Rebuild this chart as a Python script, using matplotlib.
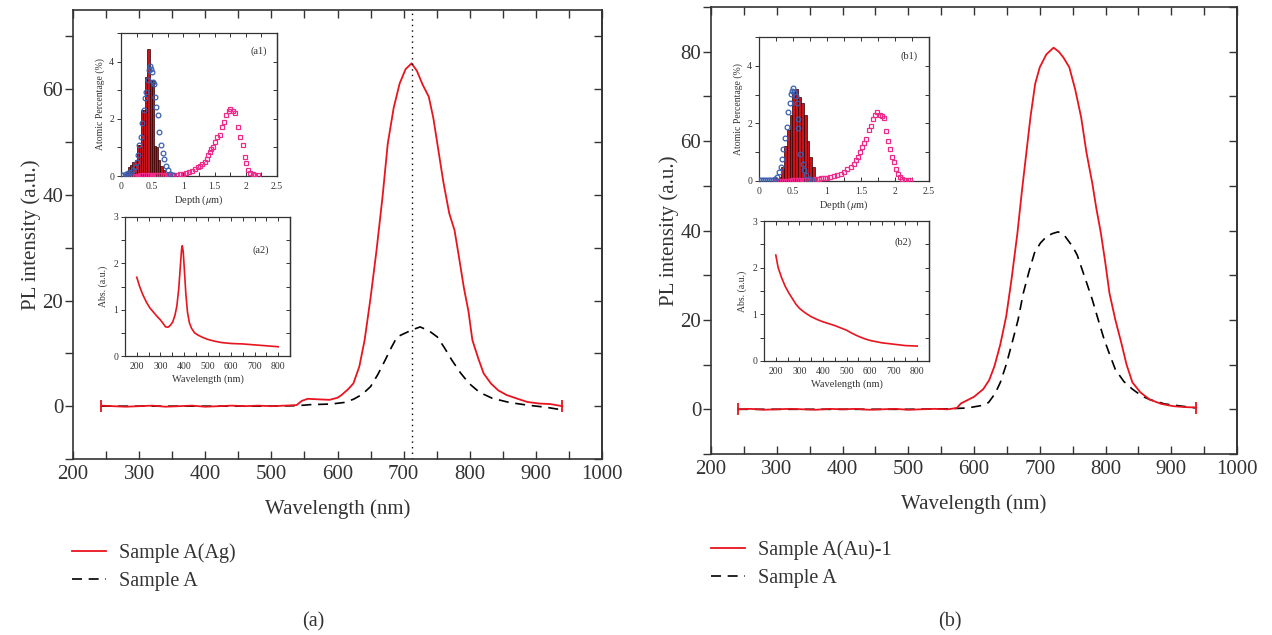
import matplotlib
matplotlib.use('Agg')
import matplotlib.pyplot as plt
from matplotlib.lines import Line2D
from matplotlib.ticker import MultipleLocator, FormatStrFormatter

plt.rcParams['font.family'] = ['Liberation Serif', 'DejaVu Serif']
plt.rcParams['mathtext.fontset'] = 'stix'
for k in ['text.color', 'axes.labelcolor', 'xtick.color', 'ytick.color', 'axes.edgecolor']:
    plt.rcParams[k] = '#333333'

RED = '#e8141e'

# ---- main PL spectra, panel (a)
a_red_wl = [243, 260, 280, 300, 320, 340, 360, 380, 400, 420, 440, 460, 480, 500, 520, 538,
            546, 555, 570, 588, 600, 606, 616, 624, 633, 641, 650, 659, 668, 676, 685, 694,
            703, 712, 720, 729, 738, 745, 751, 760, 769, 777, 784, 791, 798, 804, 813, 821,
            832, 843, 856, 870, 887, 905, 922, 940]
a_red_int = [0.1, 0.0, -0.1, 0.0, 0.1, -0.1, 0.0, 0.1, -0.1, 0.0, 0.1, 0.0, 0.1, 0.0, 0.1, 0.2,
             1.0, 1.4, 1.3, 1.2, 1.6, 2.1, 3.2, 4.3, 7.5, 12.5, 20.5, 29.5, 39.5, 49.7, 56.5, 61.1,
             63.8, 64.9, 63.5, 60.8, 58.6, 54.5, 49.7, 42.5, 36.5, 33.3, 28.0, 22.5, 18.0, 12.5, 9.0, 6.2,
             4.3, 3.0, 2.1, 1.5, 0.8, 0.5, 0.4, 0.0]
a_blk_wl = [243, 300, 400, 500, 540, 560, 590, 610, 624, 637, 650, 661, 672, 681, 690, 700,
            707, 716, 725, 738, 751, 762, 773, 786, 799, 815, 834, 860, 887, 915, 940]
a_blk_int = [0.0, 0.0, 0.0, 0.0, 0.1, 0.3, 0.4, 0.7, 1.3, 2.2, 3.7, 6.0, 8.7, 11.0, 13.1, 13.7,
             14.1, 14.6, 15.0, 14.3, 13.1, 11.0, 8.7, 6.3, 4.3, 2.6, 1.5, 0.7, 0.2, -0.2, -0.7]
a_mark_wl = 713

# ---- main PL spectra, panel (b)
b_red_wl = [241, 260, 280, 300, 320, 340, 360, 380, 400, 420, 440, 460, 480, 500, 520, 540,
            560, 574, 580, 588, 600, 614, 623, 631, 640, 649, 657, 666, 673, 680, 686, 693,
            700, 710, 721, 729, 736, 745, 754, 763, 771, 780, 786, 793, 800, 806, 815, 824,
            832, 841, 853, 867, 885, 903, 920, 938]
b_red_int = [0.0, 0.1, -0.1, 0.0, 0.1, 0.0, -0.1, 0.1, 0.0, 0.1, -0.1, 0.0, 0.1, -0.1, 0.0, 0.1,
             0.0, 0.3, 1.3, 1.9, 2.8, 4.5, 6.5, 9.6, 14.5, 20.8, 29.0, 39.4, 49.0, 57.9, 65.5, 72.8,
             76.5, 79.4, 80.9, 80.0, 78.7, 76.5, 71.5, 65.3, 57.5, 50.5, 45.0, 39.4, 32.5, 26.0, 20.0, 14.9,
             10.0, 6.0, 3.8, 2.2, 1.2, 0.7, 0.5, 0.4]
b_blk_wl = [241, 300, 400, 500, 560, 590, 610, 622, 632, 640, 649, 658, 667, 675, 684, 692,
            701, 710, 719, 728, 738, 750, 757, 763, 772, 780, 789, 798, 807, 815, 828, 841,
            855, 867, 890, 911, 938]
b_blk_int = [0.0, 0.0, 0.0, 0.0, 0.1, 0.3, 0.8, 1.5, 3.5, 6.0, 10.0, 14.9, 20.0, 26.0, 31.0, 35.0,
             37.2, 38.6, 39.3, 39.7, 38.8, 36.4, 34.5, 31.9, 28.0, 24.5, 20.0, 15.6, 12.0, 8.9, 6.2, 4.5,
             3.0, 2.2, 1.2, 0.8, 0.3]

# ---- depth profiles (a1)
a1_bar_x = [0.06, 0.095, 0.13, 0.165, 0.20, 0.235, 0.27, 0.305, 0.34, 0.375, 0.405, 0.44,
            0.475, 0.51, 0.545, 0.58, 0.615, 0.65, 0.685, 0.72, 0.755]
a1_bar_h = [0.05, 0.1, 0.32, 0.38, 0.5, 0.55, 1.1, 1.1, 2.3, 2.3, 3.45, 4.45,
            3.35, 3.35, 1.05, 1.0, 0.55, 0.35, 0.2, 0.1, 0.04]
a1_blue_x = [0.0, 0.04, 0.08, 0.12, 0.16, 0.19, 0.22, 0.25, 0.275, 0.29, 0.315, 0.34, 0.365,
             0.38, 0.405, 0.425, 0.445, 0.465, 0.48, 0.49, 0.505, 0.525, 0.545, 0.565, 0.585,
             0.61, 0.64, 0.67, 0.69, 0.72, 0.75, 0.79, 0.84]
a1_blue_y = [0.03, 0.03, 0.06, 0.09, 0.15, 0.2, 0.32, 0.49, 0.75, 1.1, 1.35, 1.85, 2.3,
             2.72, 2.95, 3.35, 3.7, 3.85, 3.75, 3.65, 3.3, 3.2, 2.75, 2.4, 2.15,
             1.55, 1.1, 0.8, 0.6, 0.35, 0.2, 0.07, 0.03]
a1_pink_x = [0.10, 0.13, 0.16, 0.19, 0.22, 0.25, 0.28, 0.31, 0.34, 0.37, 0.40, 0.43, 0.46,
             0.49, 0.52, 0.55, 0.58, 0.61, 0.64, 0.67, 0.70, 0.73, 0.76, 0.79, 0.82, 0.85,
             0.89, 0.94, 0.99, 1.04, 1.09, 1.14, 1.19, 1.23, 1.265, 1.30, 1.34, 1.375, 1.40,
             1.43, 1.45, 1.475, 1.50, 1.54, 1.58, 1.615, 1.65, 1.69, 1.725, 1.75, 1.79, 1.83,
             1.875, 1.915, 1.95, 1.98, 2.005, 2.04, 2.075, 2.115, 2.15, 2.19]
a1_pink_y = [0.01, 0.01, 0.01, 0.01, 0.01, 0.01, 0.01, 0.02, 0.02, 0.02, 0.02, 0.02, 0.02,
             0.02, 0.02, 0.02, 0.02, 0.02, 0.02, 0.03, 0.03, 0.03, 0.03, 0.03, 0.03, 0.04,
             0.04, 0.06, 0.08, 0.11, 0.15, 0.18, 0.23, 0.3, 0.36, 0.41, 0.49, 0.61, 0.72,
             0.84, 0.95, 1.03, 1.18, 1.35, 1.43, 1.72, 1.89, 2.13, 2.27, 2.35, 2.27, 2.21,
             1.7, 1.35, 1.07, 0.66, 0.46, 0.21, 0.11, 0.06, 0.03, 0.02]

# ---- depth profiles (b1)
b1_bar_x = [0.31, 0.35, 0.39, 0.43, 0.47, 0.51, 0.555, 0.60, 0.64, 0.68, 0.72, 0.76, 0.80, 0.84]
b1_bar_h = [0.15, 0.5, 1.2, 1.77, 2.3, 3.1, 3.2, 2.93, 2.7, 2.3, 1.4, 0.85, 0.5, 0.15]
b1_blue_x = [0.0, 0.03, 0.06, 0.09, 0.12, 0.15, 0.18, 0.21, 0.24, 0.27, 0.30, 0.32, 0.34,
             0.36, 0.38, 0.41, 0.43, 0.45, 0.47, 0.485, 0.50, 0.52, 0.54, 0.56, 0.57, 0.58,
             0.61, 0.64, 0.66, 0.69, 0.73, 0.78]
b1_blue_y = [0.02, 0.02, 0.02, 0.02, 0.02, 0.03, 0.04, 0.05, 0.08, 0.14, 0.3, 0.5, 0.78,
             1.1, 1.48, 1.88, 2.4, 2.72, 3.02, 3.14, 3.22, 3.1, 2.95, 2.7, 2.17, 1.83,
             0.95, 0.6, 0.37, 0.2, 0.08, 0.02]
b1_pink_x = [0.25, 0.28, 0.31, 0.34, 0.37, 0.40, 0.43, 0.46, 0.49, 0.52, 0.55, 0.58, 0.61,
             0.64, 0.67, 0.70, 0.73, 0.76, 0.79, 0.82, 0.85, 0.88, 0.91, 0.94, 0.97, 1.0,
             1.05, 1.1, 1.15, 1.2, 1.25, 1.3, 1.35, 1.39, 1.42, 1.46, 1.49, 1.51, 1.54, 1.58,
             1.62, 1.65, 1.68, 1.71, 1.74, 1.78, 1.81, 1.84, 1.87, 1.9, 1.93, 1.96, 1.98,
             2.01, 2.04, 2.08, 2.11, 2.15, 2.19, 2.22]
b1_pink_y = [0.01, 0.01, 0.01, 0.01, 0.01, 0.01, 0.01, 0.01, 0.02, 0.02, 0.02, 0.02, 0.02,
             0.02, 0.02, 0.03, 0.03, 0.04, 0.05, 0.06, 0.07, 0.08, 0.09, 0.1, 0.11, 0.12,
             0.14, 0.17, 0.2, 0.26, 0.31, 0.4, 0.49, 0.6, 0.72, 0.84, 1.01, 1.19, 1.33, 1.45,
             1.77, 1.91, 2.17, 2.29, 2.38, 2.29, 2.26, 2.2, 1.74, 1.38, 1.1, 0.84, 0.66,
             0.4, 0.23, 0.14, 0.08, 0.05, 0.02, 0.02]

# ---- absorption (a2), (b2)
a2_wl = [200, 212, 225, 240, 255, 270, 285, 300, 312, 322, 332, 342, 352, 362, 370, 378,
         385, 390, 393, 397, 402, 408, 415, 423, 432, 445, 460, 480, 500, 530, 560, 600,
         650, 700, 750, 800]
a2_abs = [1.7, 1.5, 1.33, 1.17, 1.04, 0.95, 0.86, 0.78, 0.7, 0.63, 0.62, 0.66, 0.73, 0.88, 1.08, 1.45,
          1.95, 2.3, 2.38, 2.25, 1.85, 1.35, 0.95, 0.72, 0.6, 0.5, 0.45, 0.4, 0.36, 0.32, 0.29, 0.27,
          0.26, 0.24, 0.22, 0.2]
b2_wl = [200, 210, 225, 240, 255, 270, 285, 300, 325, 350, 375, 400, 425, 450, 475, 500,
         525, 550, 575, 600, 650, 700, 750, 800]
b2_abs = [2.27, 2.0, 1.78, 1.6, 1.46, 1.34, 1.22, 1.13, 1.03, 0.95, 0.89, 0.84, 0.8, 0.76, 0.71, 0.66,
          0.59, 0.53, 0.48, 0.44, 0.39, 0.36, 0.33, 0.32]

fig = plt.figure(figsize=(12.72, 6.35), dpi=100)
W, H = 1272.0, 635.0


def box(l, t, r, b):
    return [l / W, 1 - b / H, (r - l) / W, (b - t) / H]


def style(ax, xmaj, xmin, ymaj, ymin, fs, tl, lw, ypad):
    ax.xaxis.set_major_locator(MultipleLocator(xmaj))
    ax.xaxis.set_minor_locator(MultipleLocator(xmin))
    ax.yaxis.set_major_locator(MultipleLocator(ymaj))
    ax.yaxis.set_minor_locator(MultipleLocator(ymin))
    ax.tick_params(axis='x', which='both', direction='in', top=True, length=tl, width=lw,
                   labelsize=fs, pad=4)
    ax.tick_params(axis='y', which='both', direction='out', right=False, length=tl, width=lw,
                   labelsize=fs, pad=ypad)
    for s in ax.spines.values():
        s.set_linewidth(lw + 0.2)
    sec = ax.secondary_yaxis('right')
    sec.yaxis.set_major_locator(MultipleLocator(ymaj))
    sec.yaxis.set_minor_locator(MultipleLocator(ymin))
    sec.tick_params(which='both', direction='in', length=tl, width=lw, labelright=False)
    sec.spines['right'].set_linewidth(lw + 0.2)


def main_panel(rect, wl_r, in_r, wl_k, in_k, ylim):
    ax = fig.add_axes(rect)
    ax.plot(wl_k, in_k, color='black', lw=1.2, ls=(0, (6, 4)))
    ax.plot(wl_r, in_r, color=RED, lw=1.3, marker='|', markevery=[0, len(wl_r) - 1],
            ms=8, mew=1.3)
    ax.set_xlim(200, 1000)
    ax.set_ylim(*ylim)
    style(ax, 100, 50, 20, 10, 15, 6, 1.0, 1)
    ax.set_xlabel('Wavelength (nm)', fontsize=15, labelpad=11)
    ax.set_ylabel('PL intensity (a.u.)', fontsize=15, labelpad=1)
    return ax


def depth_inset(rect, bx, bh, bw, cx, cy, px, py, tag):
    ax = fig.add_axes(rect)
    ax.bar(bx, bh, width=bw, color='#c8141c', edgecolor='#2a0000', lw=0.5, zorder=2)
    ax.plot(px, py, ls='none', marker='s', ms=2.8, mfc='none', mec='#ee2a8a', mew=0.9, zorder=3)
    ax.plot(cx, cy, ls='none', marker='o', ms=3.4, mfc='none', mec='#3a5fb0', mew=0.9, zorder=4)
    ax.set_xlim(0, 2.5)
    ax.set_ylim(0, 5)
    style(ax, 0.5, 0.25, 2, 1, 7, 3, 0.7, 2)
    ax.xaxis.set_major_formatter(FormatStrFormatter('%g'))
    ax.set_xlabel(r'Depth ($\mu$m)', fontsize=7.5, labelpad=2)
    ax.set_ylabel('Atomic Percentage (%)', fontsize=7, labelpad=3)
    ax.text(0.88, 0.87, tag, transform=ax.transAxes, fontsize=7.5, ha='center', va='center')
    return ax


def abs_inset(rect, wl, ab, tag, tx, ty):
    ax = fig.add_axes(rect)
    ax.plot(wl, ab, color=RED, lw=1.2)
    ax.set_xlim(150, 850)
    ax.set_ylim(0, 3)
    style(ax, 100, 50, 1, 0.5, 7, 3, 0.7, 2)
    ax.set_xlabel('Wavelength (nm)', fontsize=7.5, labelpad=3)
    ax.set_ylabel('Abs. (a.u.)', fontsize=7, labelpad=4)
    ax.text(tx, ty, tag, transform=ax.transAxes, fontsize=7.5, ha='center', va='center')
    return ax


# panel (a)
axa = main_panel(box(73, 10, 602, 459), a_red_wl, a_red_int, a_blk_wl, a_blk_int, (-10, 75))
axa.axvline(a_mark_wl, color='black', lw=1.0, ls=(0, (1, 3)))
depth_inset(box(121, 33, 277, 176), a1_bar_x, a1_bar_h, 0.035, a1_blue_x, a1_blue_y,
            a1_pink_x, a1_pink_y, '(a1)')
abs_inset(box(125, 217, 290, 356), a2_wl, a2_abs, '(a2)', 0.82, 0.76)

# panel (b)
axb = main_panel(box(711, 7, 1237, 454), b_red_wl, b_red_int, b_blk_wl, b_blk_int, (-10, 90))
depth_inset(box(759, 37, 929, 181), b1_bar_x, b1_bar_h, 0.04, b1_blue_x, b1_blue_y,
            b1_pink_x, b1_pink_y, '(b1)')
abs_inset(box(764, 221, 929, 361), b2_wl, b2_abs, '(b2)', 0.84, 0.85)

# legends below each panel
red_h = Line2D([], [], color=RED, lw=1.3)
blk_h = Line2D([], [], color='black', lw=1.2, ls=(0, (6, 4)))
for lab, x0, y0, tag, tx in [('Sample A(Ag)', 72, 543, '(a)', 313),
                             ('Sample A(Au)-1', 711, 540, '(b)', 950)]:
    fig.legend([red_h, blk_h], [lab, 'Sample A'], loc='upper left',
               bbox_to_anchor=(x0 / W, 1 - y0 / H), frameon=False, fontsize=14.5,
               handlelength=1.7, handletextpad=0.65, labelspacing=0.45, borderpad=0,
               borderaxespad=0)
    fig.text(tx / W, 1 - 622 / H, tag, fontsize=14.5, ha='center', va='center')

fig.savefig('out.png', dpi=100)
